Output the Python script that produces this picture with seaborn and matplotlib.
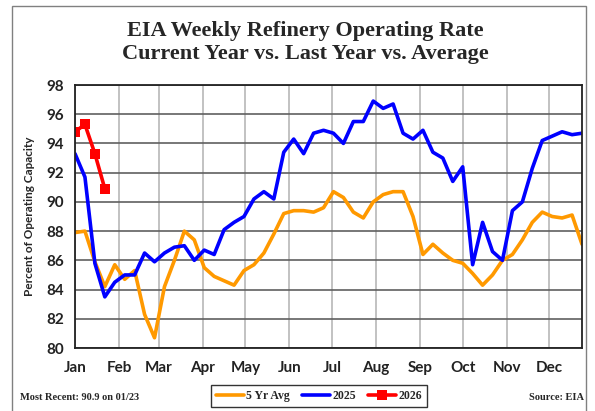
import matplotlib
matplotlib.use("Agg")
import matplotlib.pyplot as plt
import seaborn as sns
import pandas as pd
import numpy as np
from matplotlib.patches import Rectangle

sns.set_style("white")

# Weekly data (week index from start of year)
avg_5yr = [87.9, 88.0, 85.9, 84.2, 85.7, 84.7, 85.3, 82.3, 80.7, 84.2,
           86.0, 88.0, 87.4, 85.5, 84.9, 84.6, 84.3, 85.3, 85.7, 86.5,
           87.8, 89.2, 89.4, 89.4, 89.3, 89.6, 90.7, 90.3, 89.3, 88.9,
           90.0, 90.5, 90.7, 90.7, 89.0, 86.4, 87.1, 86.5, 86.0, 85.8,
           85.1, 84.3, 85.0, 86.0, 86.4, 87.4, 88.6, 89.3, 89.0, 88.9,
           89.1, 87.1]
rate_2025 = [93.3, 91.7, 85.8, 83.5, 84.5, 85.0, 85.0, 86.5, 85.9, 86.5,
             86.9, 87.0, 86.0, 86.7, 86.4, 88.1, 88.6, 89.0, 90.2, 90.7,
             90.2, 93.4, 94.3, 93.3, 94.7, 94.9, 94.7, 94.0, 95.5, 95.5,
             96.9, 96.4, 96.7, 94.7, 94.3, 94.9, 93.4, 93.0, 91.4, 92.4,
             85.7, 88.6, 86.6, 86.0, 89.4, 90.0, 92.3, 94.2, 94.5, 94.8,
             94.6, 94.7]
rate_2026 = [94.8, 95.3, 93.3, 90.9]

months = ["Jan", "Feb", "Mar", "Apr", "May", "Jun",
          "Jul", "Aug", "Sep", "Oct", "Nov", "Dec"]
month_start_day = [0, 31, 59, 90, 120, 151, 181, 212, 243, 273, 304, 334]

df = pd.DataFrame({
    "day": np.arange(len(avg_5yr)) * 7,
    "5 Yr Avg": avg_5yr,
    "2025": rate_2025,
})
df26 = pd.DataFrame({"day": np.arange(len(rate_2026)) * 7, "2026": rate_2026})

fig = plt.figure(figsize=(5.95, 4.11), dpi=100)
ax = fig.add_axes([75 / 595, 63 / 411, 507 / 595, 263 / 411])

sns.lineplot(data=df, x="day", y="5 Yr Avg", ax=ax, color="#FF9900",
             linewidth=2.6, label="5 Yr Avg")
sns.lineplot(data=df, x="day", y="2025", ax=ax, color="#0000FF",
             linewidth=2.6, label="2025")
sns.lineplot(data=df26, x="day", y="2026", ax=ax, color="#FF0000",
             linewidth=2.6, marker="s", markersize=6.5, markeredgewidth=0,
             label="2026")

ax.set_xlim(0, 357)
ax.set_ylim(80, 98)
ax.set_yticks(np.arange(80, 99, 2))
ax.set_xticks(month_start_day)
ax.set_xticklabels(months)

ax.xaxis.grid(True, color="#b8b8b8", linewidth=1.2)
ax.yaxis.grid(True, color="#606060", linewidth=1.2)
ax.set_axisbelow(True)

for s in ax.spines.values():
    s.set_color("#222222")
    s.set_linewidth(1.3)

ax.tick_params(axis="x", direction="out", length=4, width=1.3, color="black", pad=5)
ax.tick_params(axis="y", length=0, pad=8)
for lbl in ax.get_xticklabels() + ax.get_yticklabels():
    lbl.set_fontfamily("Lato")
    lbl.set_fontweight("bold")
    lbl.set_fontsize(11)
    lbl.set_color("#222222")

ax.set_xlabel("")
ax.set_ylabel("Percent of Operating Capacity", family="Lato",
              fontweight="bold", fontsize=8.5, labelpad=8)

handles, labels = ax.get_legend_handles_labels()
ax.get_legend().remove()
leg = fig.legend(handles, labels, loc="center", bbox_to_anchor=(319 / 595, 15 / 411),
                 ncol=3, frameon=True, fancybox=False, edgecolor="black",
                 handlelength=2.4, handletextpad=0.2, columnspacing=1.0,
                 borderpad=0.4,
                 prop={"family": "Liberation Serif", "weight": "bold", "size": 8.5})
leg.get_frame().set_linewidth(1.0)

fig.text(305 / 595, 1 - 31 / 411, "EIA Weekly Refinery Operating Rate",
         ha="center", va="center", family="Liberation Serif", fontweight="bold",
         fontsize=16)
fig.text(305 / 595, 1 - 54 / 411, "Current Year vs. Last Year vs. Average",
         ha="center", va="center", family="Liberation Serif", fontweight="bold",
         fontsize=16)

fig.text(20 / 595, 14 / 411, "Most Recent: 90.9 on 01/23", ha="left", va="center",
         family="Liberation Serif", fontweight="bold", fontsize=7.5)
fig.text(584 / 595, 14 / 411, "Source: EIA", ha="right", va="center",
         family="Liberation Serif", fontweight="bold", fontsize=7.5)

# outer frame
fig.patches.append(Rectangle((12 / 595, -0.05), 574 / 595, 1.05 - 6 / 411,
                             transform=fig.transFigure, fill=False,
                             edgecolor="#808080", linewidth=1.0))

fig.savefig("out.png", dpi=100)
